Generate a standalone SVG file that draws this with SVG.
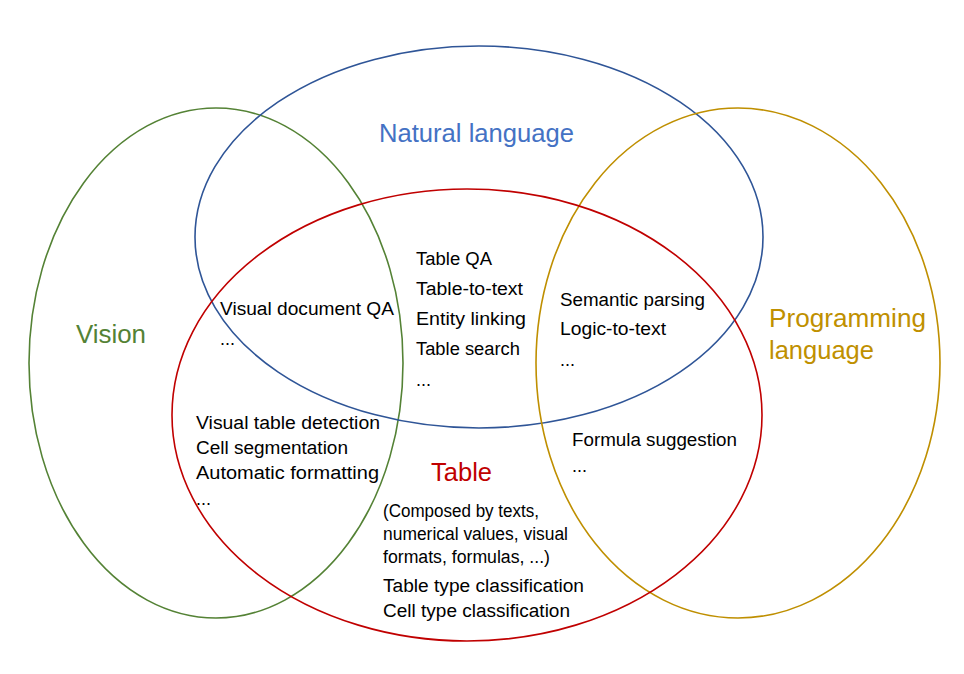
<svg xmlns="http://www.w3.org/2000/svg" width="964" height="674" viewBox="0 0 964 674">
<style>
.e{fill:none;stroke-width:1.6}
.t{font-family:"Liberation Sans",Arial,sans-serif;font-size:18px;fill:#000}
.h{font-family:"Liberation Sans",Arial,sans-serif;font-size:25px}
</style>
<rect width="964" height="674" fill="#fff"/>
<g id="vision">
<ellipse class="e" cx="216" cy="363" rx="187" ry="255" stroke="#548235"/>
<text class="h" x="76" y="343" fill="#548235" textLength="70" lengthAdjust="spacingAndGlyphs">Vision</text>
</g>
<g id="natural-language">
<ellipse class="e" cx="479" cy="237" rx="284" ry="191" stroke="#2F5597"/>
<text class="h" x="379" y="142" fill="#4472C4" textLength="195" lengthAdjust="spacingAndGlyphs">Natural language</text>
</g>
<g id="programming-language">
<ellipse class="e" cx="738" cy="363" rx="202" ry="255" stroke="#BF8F00"/>
<text class="h" x="769" y="327" fill="#BF9000" textLength="157" lengthAdjust="spacingAndGlyphs">Programming</text>
<text class="h" x="769" y="359" fill="#BF9000" textLength="105" lengthAdjust="spacingAndGlyphs">language</text>
</g>
<g id="table">
<ellipse class="e" cx="467" cy="415" rx="295" ry="226" stroke="#C00000"/>
<text class="h" x="431" y="481" fill="#C00000" textLength="61" lengthAdjust="spacingAndGlyphs">Table</text>
<text class="t" x="383" y="517" textLength="156" lengthAdjust="spacingAndGlyphs">(Composed by texts,</text>
<text class="t" x="383" y="540" textLength="185" lengthAdjust="spacingAndGlyphs">numerical values, visual</text>
<text class="t" x="383" y="563" textLength="167" lengthAdjust="spacingAndGlyphs">formats, formulas, ...)</text>
<text class="t" x="383" y="592" textLength="201" lengthAdjust="spacingAndGlyphs">Table type classification</text>
<text class="t" x="383" y="617" textLength="187" lengthAdjust="spacingAndGlyphs">Cell type classification</text>
</g>
<g id="nl-table">
<text class="t" x="416" y="265" textLength="76" lengthAdjust="spacingAndGlyphs">Table QA</text>
<text class="t" x="416" y="295" textLength="107" lengthAdjust="spacingAndGlyphs">Table-to-text</text>
<text class="t" x="416" y="325" textLength="110" lengthAdjust="spacingAndGlyphs">Entity linking</text>
<text class="t" x="416" y="355" textLength="104" lengthAdjust="spacingAndGlyphs">Table search</text>
<text class="t" x="416" y="386">...</text>
</g>
<g id="vision-nl-table">
<text class="t" x="220" y="315" textLength="174" lengthAdjust="spacingAndGlyphs">Visual document QA</text>
<text class="t" x="220" y="345">...</text>
</g>
<g id="vision-table">
<text class="t" x="196" y="429" textLength="184" lengthAdjust="spacingAndGlyphs">Visual table detection</text>
<text class="t" x="196" y="454" textLength="152" lengthAdjust="spacingAndGlyphs">Cell segmentation</text>
<text class="t" x="196" y="479" textLength="183" lengthAdjust="spacingAndGlyphs">Automatic formatting</text>
<text class="t" x="196" y="505">...</text>
</g>
<g id="pl-nl-table">
<text class="t" x="560" y="306" textLength="145" lengthAdjust="spacingAndGlyphs">Semantic parsing</text>
<text class="t" x="560" y="335" textLength="106" lengthAdjust="spacingAndGlyphs">Logic-to-text</text>
<text class="t" x="560" y="366">...</text>
</g>
<g id="pl-table">
<text class="t" x="572" y="446" textLength="165" lengthAdjust="spacingAndGlyphs">Formula suggestion</text>
<text class="t" x="572" y="472">...</text>
</g>
<g id="connectors"/>
</svg>
